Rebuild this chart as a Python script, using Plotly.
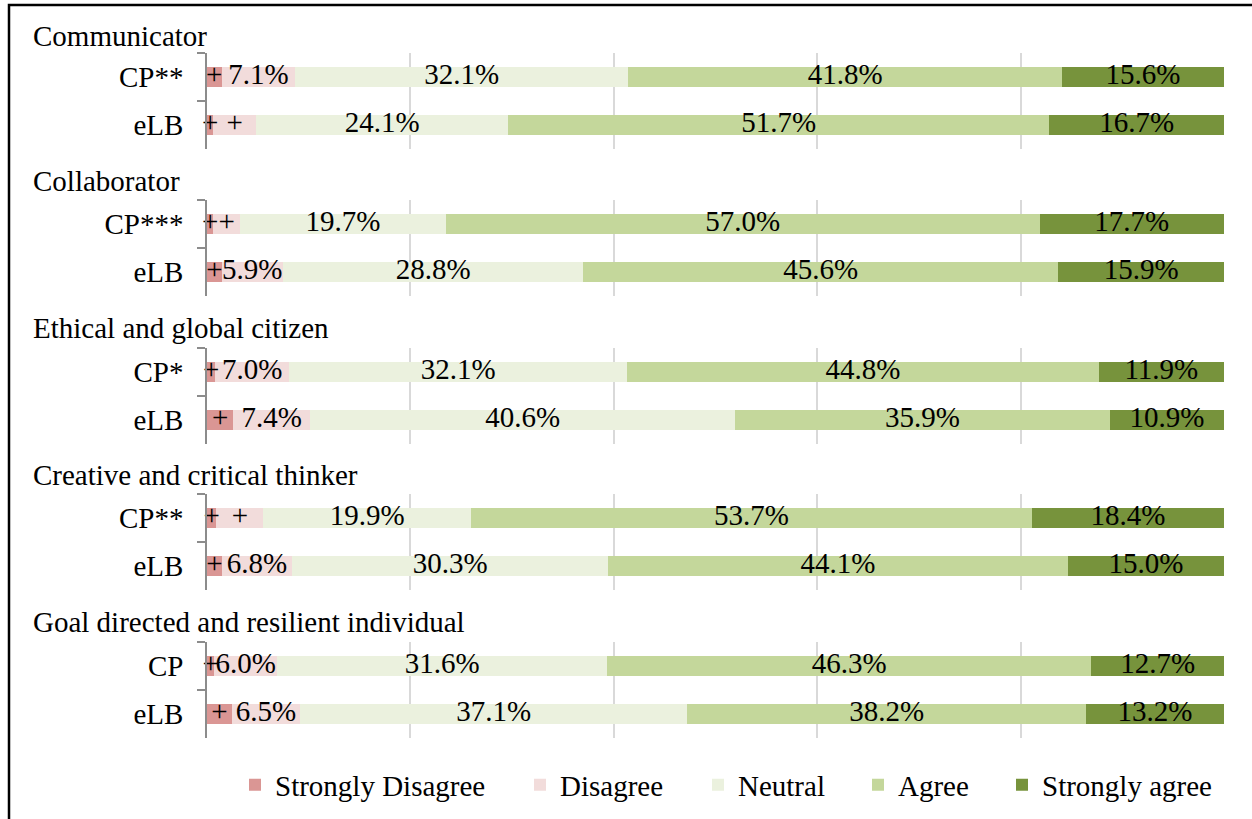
import plotly.graph_objects as go

# Likert responses (% of respondents) for each graduate attribute, CP vs eLB
attributes = [
    "Communicator",
    "Collaborator",
    "Ethical and global citizen",
    "Creative and critical thinker",
    "Goal directed and resilient individual",
]
row_labels = [
    ["CP**", "eLB"],
    ["CP***", "eLB"],
    ["CP*", "eLB"],
    ["CP**", "eLB"],
    ["CP", "eLB"],
]
levels = ["Strongly Disagree", "Disagree", "Neutral", "Agree", "Strongly agree"]
colors = ["#DA9694", "#F2DCDB", "#EBF1DE", "#C4D79B", "#77933C"]

strongly_disagree = [[1.4, 0.6], [0.6, 1.4], [0.8, 2.5], [0.9, 1.4], [0.7, 2.4]]
disagree = [[7.1, 4.1], [2.6, 5.9], [7.0, 7.4], [4.5, 6.8], [6.0, 6.5]]
neutral = [[32.1, 24.1], [19.7, 28.8], [32.1, 40.6], [19.9, 30.3], [31.6, 37.1]]
agree = [[41.8, 51.7], [57.0, 45.6], [44.8, 35.9], [53.7, 44.1], [46.3, 38.2]]
strongly_agree = [[15.6, 16.7], [17.7, 15.9], [11.9, 10.9], [18.4, 15.0], [12.7, 13.2]]

series = [strongly_disagree, disagree, neutral, agree, strongly_agree]


# values under 5% are flagged with "+" instead of a number
def label(v):
    return "+" if v < 5 else f"{v:.1f}%"


W, H = 1252, 819
FONT = "Liberation Serif, Tinos, Times New Roman, serif"
FS = 29
x_dom = [207 / W, 1224 / W]
group_tops = [53, 200, 348, 494, 642]
group_h = 96
header_y = [36, 181, 328, 475, 622]
legend_text_x = [275, 560, 738, 898, 1042]

fig = go.Figure()
for g, attr in enumerate(attributes):
    sfx = "" if g == 0 else str(g + 1)
    for k, name in enumerate(levels):
        fig.add_trace(go.Bar(
            y=row_labels[g], x=series[k][g], orientation="h", name=name,
            marker=dict(color=colors[k], line=dict(width=0)),
            xaxis="x" + sfx, yaxis="y" + sfx,
            legend="legend" if k == 0 else f"legend{k + 1}",
            showlegend=(g == 0), hoverinfo="skip",
        ))

    # segment labels, centred on each (row-normalised) segment
    lx, ly, lt = [], [], []
    for r, cat in enumerate(row_labels[g]):
        row = [series[k][g][r] for k in range(len(levels))]
        total = sum(row)
        start = 0.0
        for v in row:
            share = v / total * 100
            lx.append(start + share / 2)
            ly.append(cat)
            lt.append(label(v))
            start += share
    fig.add_trace(go.Scatter(
        x=lx, y=ly, text=lt, mode="text", textposition="middle center",
        textfont=dict(family=FONT, size=FS, color="#000000"),
        xaxis="x" + sfx, yaxis="y" + sfx, showlegend=False,
        hoverinfo="skip", cliponaxis=False,
    ))

    top = group_tops[g]
    ydom = [1 - (top + group_h) / H, 1 - top / H]
    fig.layout["xaxis" + sfx] = dict(
        domain=x_dom, range=[0, 100.001], dtick=20, showticklabels=False,
        showgrid=True, gridcolor="#D9D9D9", gridwidth=1.5, zeroline=False,
        showline=False, anchor="y" + sfx, fixedrange=True,
    )
    fig.layout["yaxis" + sfx] = dict(
        domain=ydom, type="category", categoryarray=row_labels[g],
        categoryorder="array", range=[1.5, -0.5], tickson="boundaries",
        ticks="outside", ticklen=8, tickcolor="#8C8C8C", tickwidth=1.5,
        showline=True, linecolor="#8C8C8C", linewidth=1.5, showgrid=False,
        ticklabelstandoff=16,
        anchor="x" + sfx, tickfont=dict(family=FONT, size=FS, color="#000000"),
        fixedrange=True,
    )
    fig.add_annotation(
        text=attr, xref="paper", yref="paper", x=31 / W, y=1 - header_y[g] / H,
        xanchor="left", yanchor="middle", showarrow=False,
        font=dict(family=FONT, size=FS, color="#000000"),
    )

# one legend per response level so each entry sits at its own position
for k in range(len(levels)):
    key = "legend" if k == 0 else f"legend{k + 1}"
    fig.layout[key] = dict(
        orientation="h", x=(legend_text_x[k] - 40) / W, xanchor="left",
        y=1 - 785 / H, yanchor="middle", bgcolor="rgba(0,0,0,0)",
        font=dict(family=FONT, size=FS, color="#000000"), borderwidth=0,
    )

# outer frame
fig.add_shape(type="rect", xref="paper", yref="paper",
              x0=9 / W, x1=1.01, y0=-0.01, y1=1 - 5 / H,
              line=dict(color="#000000", width=2.5), fillcolor="rgba(0,0,0,0)")

fig.update_layout(
    width=W, height=H, barmode="stack", barnorm="percent", bargap=0.57,
    margin=dict(l=0, r=0, t=0, b=0), paper_bgcolor="white", plot_bgcolor="white",
    font=dict(family=FONT, size=FS, color="#000000"),
)

fig.write_html("out.html")
